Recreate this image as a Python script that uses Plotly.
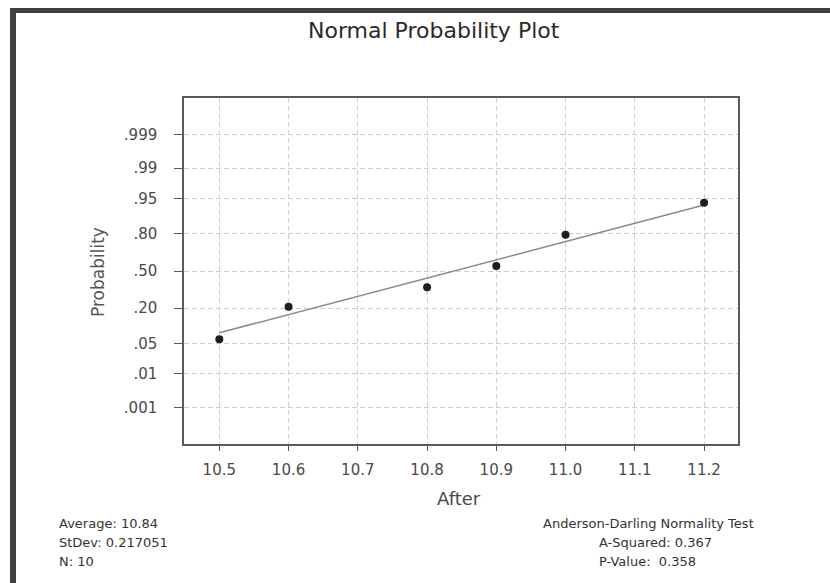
import plotly.graph_objects as go
from statistics import NormalDist

# ---------------- data ----------------
x_vals = [10.5, 10.6, 10.8, 10.9, 11.0, 11.2]
p_vals = [0.061, 0.210, 0.356, 0.545, 0.794, 0.939]

fit_x = [10.5, 11.2]
fit_p = [0.081, 0.932]

x_ticks = [10.5, 10.6, 10.7, 10.8, 10.9, 11.0, 11.1, 11.2]
y_tick_probs = [0.001, 0.01, 0.05, 0.20, 0.50, 0.80, 0.95, 0.99, 0.999]
y_tick_labels = [".001", ".01", ".05", ".20", ".50", ".80", ".95", ".99", ".999"]

stats_left = ["Average: 10.84", "StDev: 0.217051", "N: 10"]
stats_right = ["Anderson-Darling Normality Test", "A-Squared: 0.367", "P-Value:\u00a0\u00a00.358"]

# ---------------- transforms ----------------
nd = NormalDist()
z = lambda p: nd.inv_cdf(p)

W, H = 830, 583
PL, PR, PT, PB = 184, 738, 98, 444
FONT = "DejaVu Sans, Verdana, sans-serif"


def px(x):
    return (x - PL) / (PR - PL)


def py(y):
    return (PB - y) / (PB - PT)


fig = go.Figure()
fig.add_trace(go.Scatter(
    x=fit_x, y=[z(p) for p in fit_p], mode="lines",
    line=dict(color="#8a8a8a", width=1.5), hoverinfo="skip", showlegend=False))
fig.add_trace(go.Scatter(
    x=x_vals, y=[z(p) for p in p_vals], mode="markers",
    marker=dict(color="#1e1e1e", size=8), showlegend=False))

grid = dict(showgrid=True, gridcolor="#cfcfcf", gridwidth=1, griddash="5px,3px",
            zeroline=False, showline=True, mirror=True, linecolor="#5a5a5a",
            linewidth=1.5, ticks="outside", tickcolor="#5a5a5a")

fig.update_xaxes(range=[10.449, 11.249], tickvals=x_ticks,
                 ticktext=[f"{v:.1f}" for v in x_ticks], ticklen=5,
                 tickfont=dict(family=FONT, size=15, color="#4a4a4a"),
                 ticklabelstandoff=6, **grid)
fig.update_yaxes(range=[-3.914, 3.914], tickvals=[z(p) for p in y_tick_probs],
                 ticktext=y_tick_labels, ticklen=8,
                 tickfont=dict(family=FONT, size=15, color="#4a4a4a"),
                 ticklabelstandoff=14, **grid)

ann = []
ann.append(dict(text="Normal Probability Plot", x=px(434), y=py(30), xref="paper", yref="paper",
                showarrow=False, xanchor="center", yanchor="middle",
                font=dict(family=FONT, size=22, color="#2a2a2a")))
ann.append(dict(text="After", x=px(459), y=py(498), xref="paper", yref="paper",
                showarrow=False, xanchor="center", yanchor="middle",
                font=dict(family=FONT, size=18, color="#4a4a4a")))
ann.append(dict(text="Probability", x=px(98), y=py(272), xref="paper", yref="paper",
                showarrow=False, xanchor="center", yanchor="middle", textangle=-90,
                font=dict(family=FONT, size=17, color="#555555")))
for i, t in enumerate(stats_left):
    ann.append(dict(text=t, x=px(57), y=py(523 + 19 * i), xref="paper", yref="paper",
                    showarrow=False, xanchor="left", yanchor="middle",
                    font=dict(family=FONT, size=13, color="#333333")))
right_x = [541, 597, 597]
for i, t in enumerate(stats_right):
    ann.append(dict(text=t, x=px(right_x[i]), y=py(523 + 19 * i), xref="paper", yref="paper",
                    showarrow=False, xanchor="left", yanchor="middle",
                    font=dict(family=FONT, size=13, color="#333333")))

shapes = [
    dict(type="rect", xref="paper", yref="paper", x0=px(10), x1=px(16), y0=py(583), y1=py(8),
         fillcolor="#404040", line=dict(width=0), layer="above"),
    dict(type="rect", xref="paper", yref="paper", x0=px(10), x1=px(830), y0=py(13), y1=py(8),
         fillcolor="#404040", line=dict(width=0), layer="above"),
]

fig.update_layout(width=W, height=H, margin=dict(l=PL, r=W - PR, t=PT, b=H - PB),
                  paper_bgcolor="white", plot_bgcolor="white",
                  annotations=ann, shapes=shapes, showlegend=False)

fig.write_html("out.html")
